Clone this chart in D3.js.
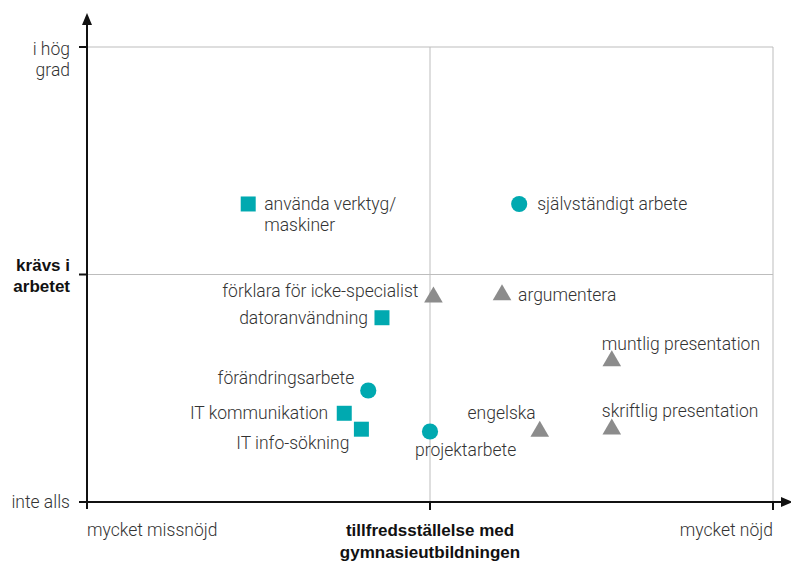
<!DOCTYPE html>
<html>
<head>
<meta charset="utf-8">
<script src="https://cdn.jsdelivr.net/npm/d3@7"></script>
<style>
  body { margin: 0; background: #fff; }
  text { font-family: Roboto, "Liberation Sans", sans-serif; }
  text.bold { font-family: "Liberation Sans", Arial, sans-serif; font-weight: 700; }
</style>
</head>
<body>
<div id="chart"></div>
<script>
// data
const skills = ['använda verktyg/|maskiner', 'självständigt arbete', 'förklara för icke-specialist',
  'argumentera', 'datoranvändning', 'muntlig presentation', 'förändringsarbete',
  'IT kommunikation', 'IT info-sökning', 'projektarbete', 'engelska', 'skriftlig presentation'];
const satisfaction = [0.47, 1.26, 1.01, 1.21, 0.86, 1.53, 0.82, 0.75, 0.80, 1.00, 1.32, 1.53];
const required = [1.31, 1.31, 0.90, 0.91, 0.81, 0.62, 0.49, 0.39, 0.32, 0.31, 0.31, 0.32];
const kinds = ['square', 'circle', 'triangle', 'triangle', 'square', 'triangle', 'circle',
  'square', 'square', 'circle', 'triangle', 'triangle'];
const xTickLabels = ['mycket missnöjd', 'tillfredsställelse med|gymnasieutbildningen', 'mycket nöjd'];
const yTickLabels = ['inte alls', 'krävs i|arbetet', 'i hög|grad'];

// label placement (dx, dy, anchor)
const labelPos = [
  [16, 6, 'start'], [18, 6, 'start'], [-15, 0, 'end'], [16, 6, 'start'],
  [-14, 6, 'end'], [-10, -11, 'start'], [-14, -7, 'end'], [-16, 6, 'end'],
  [-12, 20, 'end'], [-15, 25, 'start'], [-4, -12, 'end'], [-10, -12, 'start']
];

const width = 791, height = 562;
const teal = '#00a9b0', grey = '#8c8c8c', textCol = '#333333';
const fs = 17.5;

const svg = d3.select('#chart').append('svg')
  .attr('width', width)
  .attr('height', height);

const x = d3.scaleLinear().domain([0, 2]).range([87, 773]);
const y = d3.scaleLinear().domain([0, 2]).range([502, 47]);

// grid lines
const grid = svg.append('g').attr('stroke', '#bdbdbd').attr('stroke-width', 1);
[1, 2].forEach(v => {
  grid.append('line')
    .attr('x1', x(0)).attr('x2', x(2))
    .attr('y1', y(v)).attr('y2', y(v));
  grid.append('line')
    .attr('x1', x(v)).attr('x2', x(v))
    .attr('y1', y(0)).attr('y2', y(2));
});

// axes
const axes = svg.append('g').attr('stroke', '#111').attr('stroke-width', 2);
axes.append('line').attr('x1', x(0)).attr('x2', x(0)).attr('y1', y(0) + 7).attr('y2', 22);
axes.append('line').attr('x1', x(0)).attr('x2', width - 8).attr('y1', y(0)).attr('y2', y(0));
[0, 1, 2].forEach(v => {
  axes.append('line').attr('x1', x(0) - 8).attr('x2', x(0)).attr('y1', y(v)).attr('y2', y(v));
  if (v > 0) axes.append('line').attr('x1', x(v)).attr('x2', x(v)).attr('y1', y(0)).attr('y2', y(0) + 8);
});
svg.append('path')
  .attr('d', `M${x(0)},13 L${x(0) - 5},25 L${x(0) + 5},25 Z`)
  .attr('fill', '#111');
svg.append('path')
  .attr('d', `M${width + 2},${y(0)} L${width - 10},${y(0) - 5} L${width - 10},${y(0) + 5} Z`)
  .attr('fill', '#111');

// y tick labels
yTickLabels.forEach((lab, i) => {
  const lines = lab.split('|');
  const t = svg.append('text')
    .attr('class', i === 1 ? 'bold' : 'light')
    .attr('text-anchor', 'end')
    .attr('font-size', i === 1 ? 17 : fs)
    .attr('font-weight', i === 1 ? 700 : 300)
    .attr('fill', i === 1 ? '#111' : textCol);
  const base = i === 1 ? y(i) - 4 : (lines.length > 1 ? y(i) + 8 : y(i) + 6);
  lines.forEach((l, j) => {
    t.append('tspan').attr('x', 70).attr('y', base + j * 21).text(l);
  });
});

// x tick labels
xTickLabels.forEach((lab, i) => {
  const lines = lab.split('|');
  const anchor = i === 0 ? 'start' : i === 1 ? 'middle' : 'end';
  const t = svg.append('text')
    .attr('class', i === 1 ? 'bold' : 'light')
    .attr('text-anchor', anchor)
    .attr('font-size', i === 1 ? 17 : fs)
    .attr('font-weight', i === 1 ? 700 : 300)
    .attr('fill', i === 1 ? '#111' : textCol);
  lines.forEach((l, j) => {
    t.append('tspan').attr('x', x(i)).attr('y', 536 + j * 22).text(l);
  });
});

// points
const symbolType = { square: d3.symbolSquare, circle: d3.symbolCircle, triangle: d3.symbolTriangle };
const symbolSize = { square: 225, circle: 205, triangle: 150 };
const pts = svg.append('g');
skills.forEach((s, i) => {
  const k = kinds[i];
  pts.append('path')
    .attr('transform', `translate(${x(satisfaction[i])},${y(required[i])})`)
    .attr('d', d3.symbol().type(symbolType[k]).size(symbolSize[k])())
    .attr('fill', k === 'triangle' ? grey : teal);

  const [dx, dy, anchor] = labelPos[i];
  const t = pts.append('text')
    .attr('text-anchor', anchor)
    .attr('font-size', fs)
    .attr('font-weight', 300)
    .attr('fill', textCol);
  s.split('|').forEach((l, j) => {
    t.append('tspan')
      .attr('x', x(satisfaction[i]) + dx)
      .attr('y', y(required[i]) + dy + j * 21)
      .text(l);
  });
});
</script>
</body>
</html>
